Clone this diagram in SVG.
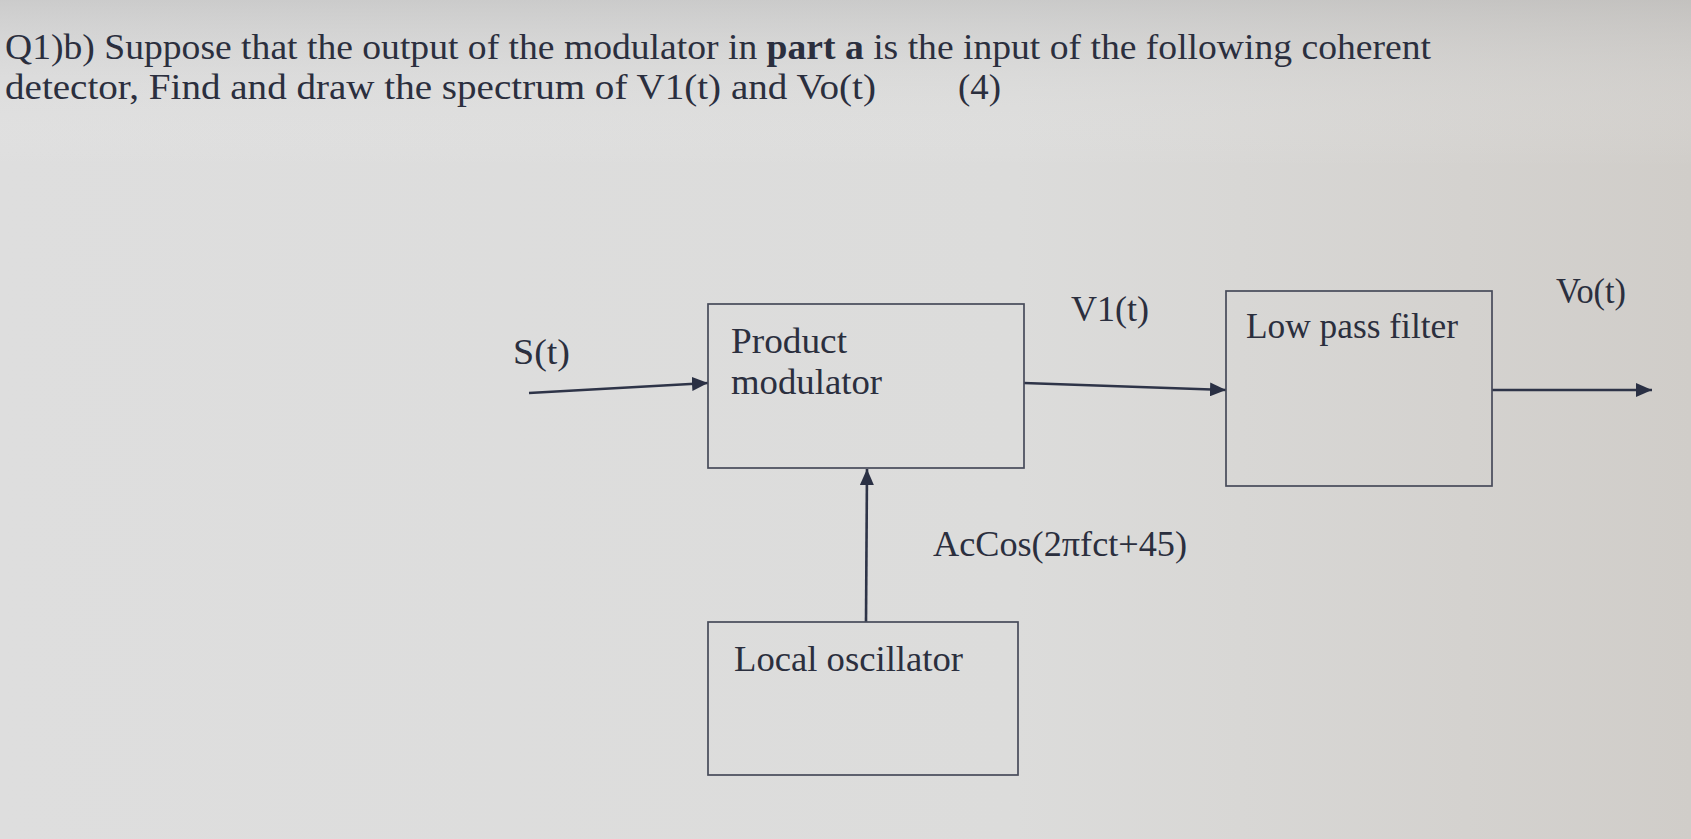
<svg xmlns="http://www.w3.org/2000/svg" width="1691" height="839" viewBox="0 0 1691 839">
<defs>
<linearGradient id="bg" x1="0" y1="0" x2="1" y2="0">
<stop offset="0" stop-color="#dedede"/>
<stop offset="0.6" stop-color="#dcdcdb"/>
<stop offset="1" stop-color="#d0cdc9"/>
</linearGradient>
<linearGradient id="bgv" x1="0" y1="0" x2="0" y2="1">
<stop offset="0" stop-color="#b0b0b0" stop-opacity="0.4"/>
<stop offset="0.2" stop-color="#ffffff" stop-opacity="0"/>
<stop offset="1" stop-color="#ffffff" stop-opacity="0"/>
</linearGradient>
<marker id="arrBig" viewBox="0 0 16 14" refX="16" refY="7" markerWidth="16" markerHeight="14" markerUnits="userSpaceOnUse" orient="auto">
<path d="M0,0 L16,7 L0,14 z" fill="#2a3044"/>
</marker>
</defs>
<style>
text{font-family:"Liberation Serif","Times New Roman",serif;fill:#2b2f3e;}
.t{font-size:35px;}
.l{font-size:35px;}
.box{fill:none;stroke:#474b5a;stroke-width:1.7;}
.c{stroke:#2e3448;stroke-width:2.6;fill:none;}
</style>
<rect x="0" y="0" width="1691" height="839" fill="url(#bg)"/>
<rect x="0" y="0" width="1691" height="839" fill="url(#bgv)"/>

<g id="title">
<text class="t" x="5" y="59" textLength="1426" lengthAdjust="spacingAndGlyphs">Q1)b) Suppose that the output of the modulator in <tspan font-weight="bold">part a</tspan>  is the input of the following coherent</text>
<text class="t" x="5" y="99" textLength="871" lengthAdjust="spacingAndGlyphs">detector, Find and draw the spectrum of  V1(t) and Vo(t)</text>
<text class="t" x="958" y="99" textLength="43" lengthAdjust="spacingAndGlyphs">(4)</text>
</g>

<g id="connectors">
<line class="c" x1="529" y1="393" x2="708" y2="383" marker-end="url(#arrBig)"/>
<line class="c" x1="1024" y1="383" x2="1226" y2="390" marker-end="url(#arrBig)"/>
<line class="c" x1="1492" y1="390" x2="1652" y2="390" marker-end="url(#arrBig)"/>
<line class="c" x1="866" y1="622" x2="867" y2="469" marker-end="url(#arrBig)"/>
</g>

<g id="label-s">
<text class="l" x="513" y="364" textLength="57" lengthAdjust="spacingAndGlyphs">S(t)</text>
</g>
<g id="label-v1">
<text class="l" x="1071" y="321" textLength="78" lengthAdjust="spacingAndGlyphs">V1(t)</text>
</g>
<g id="label-vo">
<text class="l" x="1556" y="303" textLength="70" lengthAdjust="spacingAndGlyphs">Vo(t)</text>
</g>
<g id="label-carrier">
<text class="l" x="933" y="556" textLength="254" lengthAdjust="spacingAndGlyphs">AcCos(2πfct+45)</text>
</g>

<g id="product-modulator">
<rect class="box" x="708" y="304" width="316" height="164"/>
<text class="l" x="731" y="353" textLength="116" lengthAdjust="spacingAndGlyphs">Product</text>
<text class="l" x="731" y="394" textLength="151" lengthAdjust="spacingAndGlyphs">modulator</text>
</g>

<g id="low-pass-filter">
<rect class="box" x="1226" y="291" width="266" height="195"/>
<text class="l" x="1246" y="338" textLength="212" lengthAdjust="spacingAndGlyphs">Low pass filter</text>
</g>

<g id="local-oscillator">
<rect class="box" x="708" y="622" width="310" height="153"/>
<text class="l" x="734" y="671" textLength="229" lengthAdjust="spacingAndGlyphs">Local oscillator</text>
</g>
</svg>
